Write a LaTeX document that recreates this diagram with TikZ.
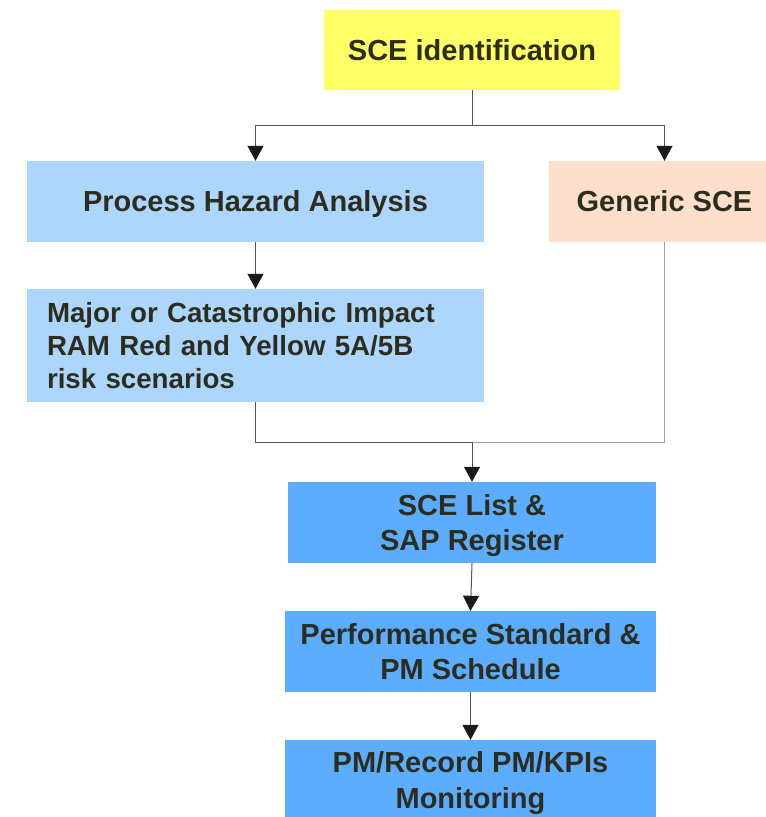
\documentclass[tikz,border=0pt]{standalone}
\usepackage{fontspec}
\setmainfont{Liberation Sans}
\usetikzlibrary{arrows.meta}
\definecolor{cyel}{RGB}{255,255,102}
\definecolor{clight}{RGB}{173,214,255}
\definecolor{cpeach}{RGB}{253,223,203}
\definecolor{cblue}{RGB}{92,173,255}
\definecolor{ctext}{RGB}{45,45,30}
\definecolor{cline}{RGB}{85,85,85}
\definecolor{clinel}{RGB}{160,160,160}
\definecolor{ctip}{RGB}{26,26,26}
\tikzset{
  boxbase/.style={rectangle, inner sep=0pt, draw=none, text=ctext, align=center,
    font=\bfseries\fontsize{29}{35.5}\selectfont},
  oneline/.style={text height=20.8pt, text depth=0pt},
  twoline/.style={text height=56.3pt, text depth=0pt},
  conn/.style={draw=cline, line width=1pt},
  arr/.style={conn, -{Triangle[width=16pt,length=15pt,color=ctip]}},
}
\begin{document}
\begin{tikzpicture}[x=1pt,y=-1pt]
\fill[white] (0,0) rectangle (766,817);
\useasboundingbox (0,0) rectangle (766,817);
\node[boxbase, oneline, fill=cyel, minimum width=296pt, minimum height=80pt] (sce) at (472,50) {SCE identification};
\node[boxbase, oneline, fill=clight, minimum width=457pt, minimum height=81pt] (pha) at (255.5,201.5) {Process Hazard Analysis};
\node[boxbase, oneline, fill=cpeach, minimum width=231pt, minimum height=81pt] (gen) at (664.5,201.5) {Generic SCE};
\node[boxbase, fill=clight, minimum width=457pt, minimum height=113pt, text width=417pt, align=left,
  font=\bfseries\fontsize{27.7}{33}\selectfont, text height=19.8pt, text depth=66pt] (maj) at (255.5,345.5) {Major or Catastrophic Impact\\RAM Red and Yellow 5A/5B\\risk scenarios};
\node[boxbase, twoline, fill=cblue, minimum width=368pt, minimum height=81pt] (list) at (472,522.5) {SCE List \&\\SAP Register};
\node[boxbase, twoline, fill=cblue, minimum width=371pt, minimum height=81pt] (perf) at (470.5,651.5) {Performance Standard \&\\PM Schedule};
\node[boxbase, twoline, fill=cblue, minimum width=371pt, minimum height=80pt] (pm) at (470.5,780) {PM/Record PM/KPIs\\Monitoring};
% connectors
\coordinate (j1) at (472,125);
\draw[conn] (sce.south) -- (j1);
\draw[arr] (j1) -| (pha.north);
\draw[arr] (j1) -| (gen.north);
\draw[arr] (pha.south) -- (maj.north);
\coordinate (j2) at (472,442);
\draw[conn] (maj.south) |- (j2);
\draw[draw=clinel, line width=1pt] (j2) -| (gen.south);
\draw[arr] (j2) -- (list.north);
\draw[arr] (list.south) -- (perf.north);
\draw[arr] (perf.south) -- (pm.north);
\end{tikzpicture}
\end{document}
